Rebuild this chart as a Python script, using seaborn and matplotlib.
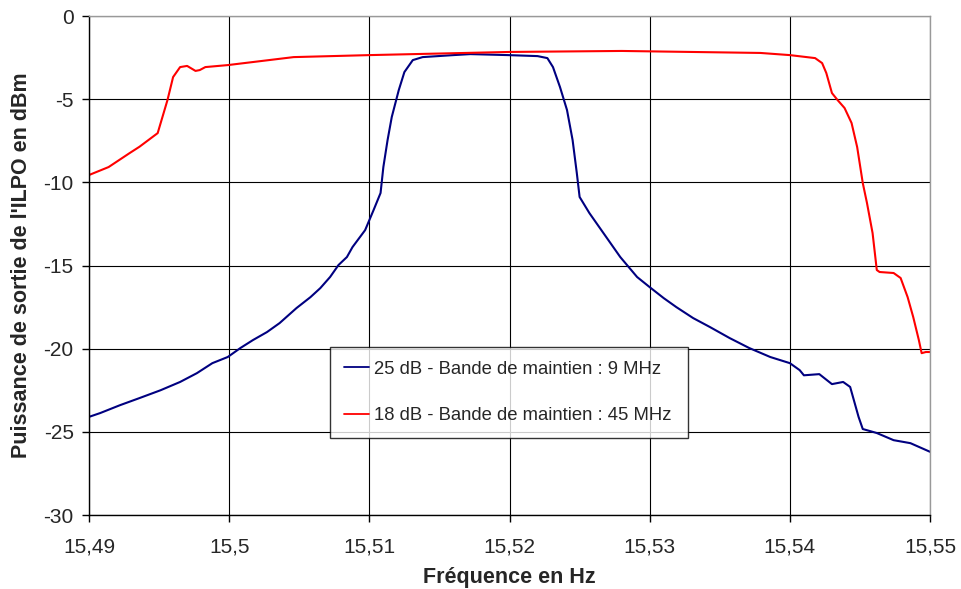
import numpy as np
import pandas as pd
import matplotlib
matplotlib.use('Agg')
import matplotlib.pyplot as plt
from matplotlib.ticker import FuncFormatter, MultipleLocator
import seaborn as sns

# Courbe bleue : 25 dB - bande de maintien 9 MHz
freq_25 = [15.49, 15.4908, 15.4922, 15.4936, 15.4951, 15.4965, 15.4977, 15.4988,
           15.4999, 15.5008, 15.5017, 15.5027, 15.5036, 15.5048, 15.5058, 15.5065,
           15.5072, 15.5078, 15.5084, 15.5088, 15.5097, 15.5103, 15.5108, 15.511,
           15.5113, 15.5116, 15.5121, 15.5125, 15.5131, 15.5138, 15.516, 15.5172,
           15.5199, 15.522, 15.5227, 15.5231, 15.5236, 15.5241, 15.5245, 15.5248,
           15.525, 15.5257, 15.5267, 15.5279, 15.5291, 15.53, 15.531, 15.5319,
           15.5331, 15.5343, 15.5357, 15.5371, 15.5386, 15.54, 15.5407, 15.541,
           15.5421, 15.543, 15.5438, 15.5443, 15.5449, 15.5452, 15.5462, 15.5474,
           15.5486, 15.55]
p_25 = [-24.1, -23.87, -23.4, -22.97, -22.5, -22.0, -21.47, -20.87,
        -20.5, -19.96, -19.48, -19.0, -18.46, -17.56, -16.9, -16.36,
        -15.69, -14.97, -14.49, -13.89, -12.87, -11.67, -10.64, -9.08,
        -7.46, -6.07, -4.45, -3.37, -2.65, -2.47, -2.35, -2.29,
        -2.35, -2.41, -2.53, -3.07, -4.27, -5.65, -7.46, -9.44,
        -10.88, -11.85, -13.05, -14.49, -15.69, -16.3, -16.96, -17.5,
        -18.16, -18.7, -19.36, -19.96, -20.5, -20.87, -21.29, -21.6,
        -21.53, -22.13, -22.0, -22.3, -24.1, -24.83, -25.07, -25.5,
        -25.68, -26.2]

# Courbe rouge : 18 dB - bande de maintien 45 MHz
freq_18 = [15.49, 15.4914, 15.4929, 15.4936, 15.4949, 15.4956, 15.496, 15.4965,
           15.497, 15.4976, 15.4979, 15.4983, 15.4999, 15.5046, 15.51, 15.52,
           15.528, 15.5379, 15.54, 15.5418, 15.5423, 15.5426, 15.543, 15.5434,
           15.5439, 15.5444, 15.5448, 15.5452, 15.5455, 15.5459, 15.5462, 15.5464,
           15.5474, 15.5479, 15.5484, 15.5488, 15.5492, 15.5494, 15.5497, 15.55]
p_18 = [-9.56, -9.08, -8.24, -7.86, -7.04, -5.05, -3.67, -3.07,
        -3.0, -3.3, -3.25, -3.07, -2.95, -2.47, -2.35, -2.16,
        -2.1, -2.22, -2.35, -2.53, -2.83, -3.43, -4.63, -5.05,
        -5.53, -6.43, -7.88, -10.04, -11.24, -13.05, -15.27, -15.39,
        -15.45, -15.75, -16.9, -18.1, -19.48, -20.27, -20.2, -20.2]

label_25 = '25 dB - Bande de maintien : 9 MHz'
label_18 = '18 dB - Bande de maintien : 45 MHz'

df = pd.concat([
    pd.DataFrame({'freq': freq_25, 'p': p_25, 'serie': label_25}),
    pd.DataFrame({'freq': freq_18, 'p': p_18, 'serie': label_18}),
], ignore_index=True)

sns.set_style('white')
plt.rcParams['font.family'] = ['Liberation Sans', 'DejaVu Sans']

fig = plt.figure(figsize=(9.61, 5.89), dpi=100)
ax = fig.add_axes([0.0926, 0.1256, 0.8752, 0.8472])

sns.lineplot(data=df, x='freq', y='p', hue='serie', sort=False,
             palette={label_25: '#000080', label_18: '#ff0000'},
             linewidth=1.5, ax=ax)

ax.set_xlim(15.49, 15.55)
ax.set_ylim(-30, 0)
ax.xaxis.set_major_locator(MultipleLocator(0.01))
ax.yaxis.set_major_locator(MultipleLocator(5))
ax.xaxis.set_major_formatter(FuncFormatter(lambda v, pos: ('%g' % round(v, 4)).replace('.', ',')))
ax.yaxis.set_major_formatter(FuncFormatter(lambda v, pos: '%g' % v))

ax.grid(True, color='black', linewidth=0.8)
ax.set_axisbelow(True)
for side in ['left', 'bottom']:
    ax.spines[side].set_color('black')
    ax.spines[side].set_linewidth(1)
for side in ['top', 'right']:
    ax.spines[side].set_color('#999999')
    ax.spines[side].set_linewidth(1)

ax.tick_params(axis='both', which='major', labelsize=15, direction='out',
               length=5, width=1, color='black', bottom=True, left=True)
ax.tick_params(axis='x', pad=11)
ax.tick_params(axis='y', pad=6)

ax.set_xlabel('Fréquence en Hz', fontsize=15.5, fontweight='bold', labelpad=8)
ax.set_ylabel("Puissance de sortie de l'ILPO en dBm", fontsize=15.5, fontweight='bold', labelpad=8)

leg = ax.legend(loc='upper left', bbox_to_anchor=(0.2866, 0.158, 0.4257, 0.179),
                mode='expand', fontsize=13.3, frameon=True, fancybox=False,
                shadow=False, handlelength=1.35, handletextpad=0.3,
                labelspacing=1.6, borderpad=0.75, borderaxespad=0, title=None)
leg.get_frame().set_edgecolor('black')
leg.get_frame().set_linewidth(1)
for line in leg.get_lines():
    line.set_linewidth(1.3)

fig.savefig('out.png', dpi=100)
